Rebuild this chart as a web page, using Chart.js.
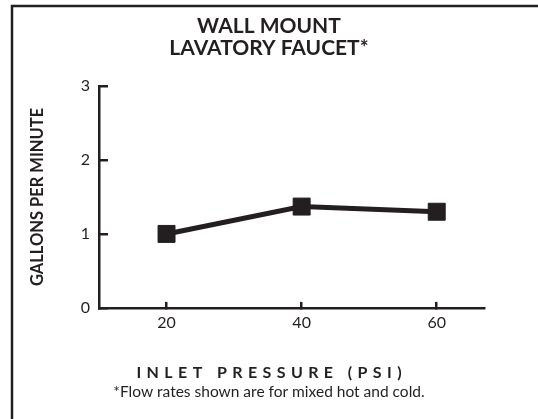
<!DOCTYPE html>
<html>
<head>
<meta charset="utf-8">
<script src="https://cdn.jsdelivr.net/npm/chart.js@4"></script>
<style>
  html, body { margin: 0; padding: 0; background: #fff; }
</style>
</head>
<body>
<canvas id="myChart" width="538" height="419"></canvas>
<script>
// data
let pressure = [20, 40, 60];
let flow = [1.0, 1.37, 1.3];
let x_ticks = [20, 40, 60];
let y_ticks = [0, 1, 2, 3];
let title_lines = ["WALL MOUNT", "LAVATORY FAUCET*"];
let x_title = "INLET PRESSURE (PSI)";
let y_title = "GALLONS PER MINUTE";
let footnote = "*Flow rates shown are for mixed hot and cold.";

const ink = "#231f20";
const font_family = "Lato, 'Open Sans', sans-serif";

// top + left frame lines of the card
const frame = {
  id: "frame",
  afterDraw(c) {
    let ctx = c.ctx;
    ctx.save();
    ctx.strokeStyle = ink;
    ctx.lineWidth = 2.5;
    ctx.beginPath();
    ctx.moveTo(12, c.height + 2);
    ctx.lineTo(12, 6);
    ctx.lineTo(c.width + 2, 6);
    ctx.stroke();
    ctx.restore();
  },
};

// x axis title: letter spaced and centred on the page, not on the axis
function spaced_title(s) {
  if (s._spaced) return;
  s._spaced = true;
  let draw_title = s.drawTitle;
  s.drawTitle = function () {
    let ctx = this.ctx;
    let gap = 5.4;
    ctx.save();
    ctx.letterSpacing = gap + "px";
    ctx.translate(this.chart.width / 2 - (this.left + this.right) / 2 + gap / 2, 0);
    draw_title.call(this);
    ctx.restore();
  };
}

let points = pressure.map((p, i) => ({ x: p, y: flow[i] }));

let config = {
  type: "line",
  data: {
    datasets: [
      {
        data: points,
        borderColor: ink,
        borderWidth: 5,
        pointStyle: "rect",
        pointRadius: 12,
        pointBackgroundColor: ink,
        pointBorderColor: ink,
        pointBorderWidth: 1,
        fill: false,
        tension: 0,
      },
    ],
  },
  options: {
    responsive: false,
    animation: false,
    layout: { padding: { left: 0, right: 0, top: 0, bottom: 0 } },
    plugins: {
      legend: { display: false },
      tooltip: { enabled: false },
      title: {
        display: true,
        text: title_lines,
        color: ink,
        font: { family: font_family, size: 21, weight: "bold", lineHeight: 1.05 },
        padding: { top: 15.5, bottom: 26.4 },
      },
      subtitle: {
        display: true,
        position: "bottom",
        text: footnote,
        color: ink,
        font: { family: font_family, size: 15.5, weight: "normal", lineHeight: 1.2 },
        padding: { top: 0, bottom: 17.5 },
      },
    },
    scales: {
      x: {
        type: "linear",
        min: 10,
        max: 67,
        afterBuildTicks: (s) => {
          s.ticks = x_ticks.map((v) => ({ value: v }));
        },
        afterFit: (s) => {
          s.height = 75;
          spaced_title(s);
        },
        border: { display: true, color: ink, width: 2.5 },
        grid: { drawOnChartArea: false, drawTicks: true, tickLength: -6, color: ink, lineWidth: 2.5 },
        ticks: { color: ink, padding: 11, font: { family: font_family, size: 16 } },
        title: {
          display: true,
          text: x_title,
          color: ink,
          font: { family: font_family, size: 16, weight: "bold", lineHeight: 1.2 },
          padding: { top: 0, bottom: 0.5 },
        },
      },
      y: {
        min: 0,
        max: 3,
        afterBuildTicks: (s) => {
          s.ticks = y_ticks.map((v) => ({ value: v }));
        },
        afterFit: (s) => {
          s.width = 99;
        },
        border: { display: true, color: ink, width: 2.5 },
        grid: { drawOnChartArea: false, drawTicks: true, tickLength: -9, color: ink, lineWidth: 2.5 },
        ticks: { color: ink, padding: 18, font: { family: font_family, size: 16 } },
        title: {
          display: true,
          text: y_title,
          color: ink,
          font: { family: font_family, size: 16.5, weight: "bold", lineHeight: 1.2 },
          padding: { top: 28, bottom: 0 },
        },
      },
      // empty right gutter so the plot ends where the reference does
      gutter: {
        type: "linear",
        position: "right",
        display: true,
        grid: { display: false },
        border: { display: false },
        ticks: { display: false },
        afterFit: (s) => {
          s.width = 54;
        },
      },
    },
  },
  plugins: [frame],
};

new Chart(document.getElementById("myChart"), config);
</script>
</body>
</html>
